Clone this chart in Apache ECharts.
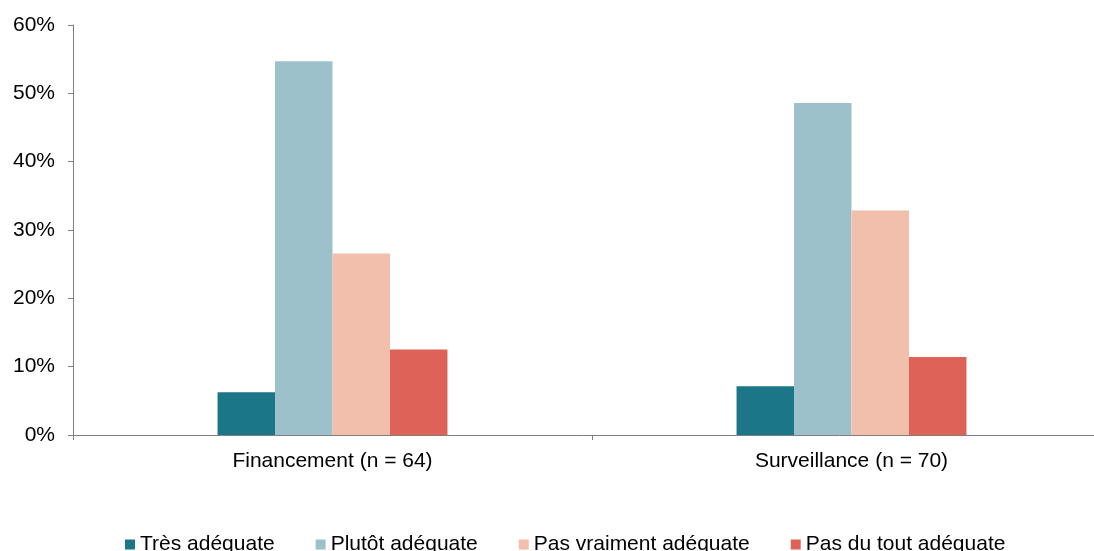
<!DOCTYPE html>
<html>
<head>
<meta charset="utf-8">
<style>
  html, body { margin: 0; padding: 0; background: #ffffff; }
  #chart { width: 1094px; height: 551px; }
</style>
<script src="https://cdn.jsdelivr.net/npm/echarts@6/dist/echarts.min.js"></script>
</head>
<body>
<div id="chart"></div>
<script>
// Categories on the x axis
const categories = ['Financement (n = 64)', 'Surveillance (n = 70)'];

// Share of respondents per answer (%)
const tresAdequate = [6.25, 7.14];
const plutotAdequate = [54.69, 48.57];
const pasVraimentAdequate = [26.56, 32.86];
const pasDuToutAdequate = [12.5, 11.43];

const seriesNames = ['Très adéquate', 'Plutôt adéquate', 'Pas vraiment adéquate', 'Pas du tout adéquate'];
const seriesValues = [tresAdequate, plutotAdequate, pasVraimentAdequate, pasDuToutAdequate];
const seriesColors = ['#1b7688', '#9dc1ca', '#f1bfac', '#de6258'];

const FONT = "'Liberation Sans', Arial, sans-serif";

const chart = echarts.init(document.getElementById('chart'), null, { renderer: 'canvas' });

chart.setOption({
  animation: false,
  backgroundColor: '#ffffff',
  textStyle: { fontFamily: FONT },
  grid: {
    left: 73,
    top: 25,
    width: 1038,
    height: 410,
    containLabel: false,
    outerBoundsMode: 'none'
  },
  legend: {
    data: seriesNames,
    left: 120,
    top: 529,
    itemWidth: 10,
    itemHeight: 10,
    itemGap: 41,
    icon: 'rect',
    textStyle: { fontFamily: FONT, fontSize: 21, color: '#000000' }
  },
  xAxis: {
    type: 'category',
    data: categories,
    boundaryGap: true,
    axisLine: { lineStyle: { color: '#7f7f7f', width: 1 } },
    axisTick: { show: true, length: 5, lineStyle: { color: '#7f7f7f' } },
    axisLabel: { fontFamily: FONT, fontSize: 21, color: '#000000', margin: 16 },
    splitLine: { show: false }
  },
  yAxis: {
    type: 'value',
    min: 0,
    max: 60,
    interval: 10,
    axisLine: { show: true, lineStyle: { color: '#7f7f7f', width: 1 } },
    axisTick: { show: true, length: 5, lineStyle: { color: '#7f7f7f' } },
    axisLabel: {
      fontFamily: FONT,
      fontSize: 21,
      color: '#000000',
      margin: 18,
      formatter: '{value}%'
    },
    splitLine: { show: false }
  },
  series: seriesNames.map((name, i) => ({
    name: name,
    type: 'bar',
    data: seriesValues[i],
    barGap: '0%',
    barCategoryGap: '55.7%',
    itemStyle: { color: seriesColors[i] }
  }))
});
</script>
</body>
</html>
